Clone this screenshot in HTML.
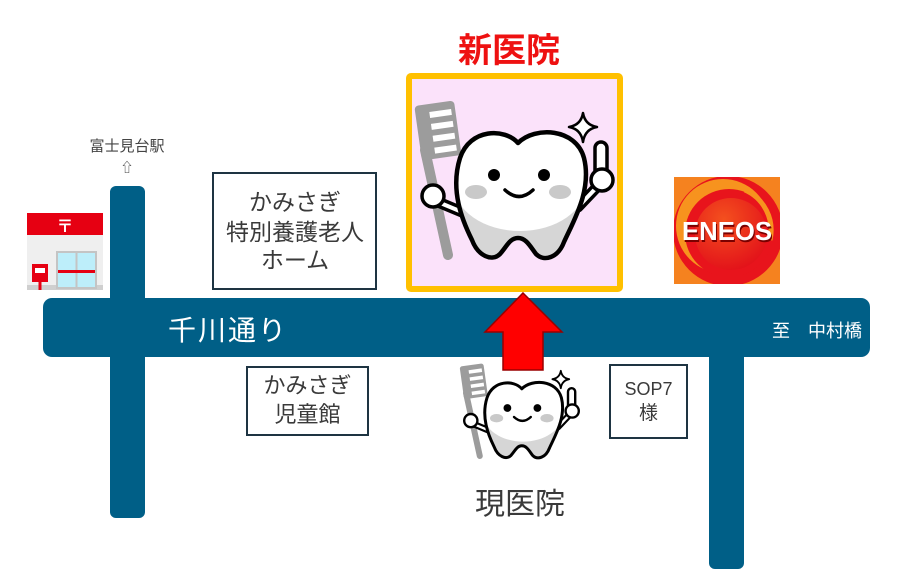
<!DOCTYPE html>
<html><head><meta charset="utf-8"><style>
html,body{margin:0;padding:0;background:#fff;}
svg{display:block;}
text{font-family:"Liberation Sans","Noto Sans CJK JP",sans-serif;}
</style></head><body>
<svg width="906" height="584" viewBox="0 0 906 584" xmlns="http://www.w3.org/2000/svg">
<defs>
<clipPath id="tc"><path d="M518 143 C505 128 470 128 460 158 C450 190 462 220 472 240 C478 256 492 262 500 254 C507 246 510 238 518 238 C526 238 530 246 536 254 C544 262 558 258 564 242 C574 220 592 190 584 158 C576 128 535 126 518 143 Z"/></clipPath>
<clipPath id="ec"><rect x="674" y="177" width="106" height="107"/></clipPath>
<radialGradient id="rg" cx="0.4" cy="0.3" r="0.75"><stop offset="0" stop-color="#f4501e"/><stop offset="1" stop-color="#e2101a"/></radialGradient>
</defs>

<!-- roads -->
<rect x="110" y="186" width="35" height="332" rx="6" fill="#005f87"/>
<rect x="709" y="330" width="35" height="239" rx="6" fill="#005f87"/>
<rect x="43" y="298" width="827" height="59" rx="9" fill="#005f87"/>
<text x="168" y="340" font-size="28" fill="#fff" letter-spacing="2">千川通り</text>
<text x="772" y="337" font-size="18" fill="#fff">至　中村橋</text>

<!-- station -->
<text x="127" y="151" font-size="15" fill="#444" text-anchor="middle">富士見台駅</text>
<text x="127" y="172" font-size="13" fill="#444" text-anchor="middle">⇧</text>

<!-- post office -->
<rect x="27" y="213" width="76" height="22" fill="#e60012"/>
<text x="65" y="232" font-size="17" font-weight="bold" fill="#fff" text-anchor="middle">〒</text>
<rect x="27" y="235" width="76" height="53" fill="#efefef"/>
<rect x="27" y="285" width="76" height="5" fill="#cfcfcf"/>
<rect x="57" y="252" width="39" height="36" fill="#bdeefa" stroke="#c4c4c4" stroke-width="2"/>
<rect x="75.5" y="252" width="2" height="36" fill="#c4c4c4"/>
<rect x="58" y="270" width="37" height="3" fill="#e60012"/>
<rect x="32" y="264" width="16" height="18" fill="#e60012"/>
<rect x="35" y="268" width="10" height="5" fill="#fff"/>
<rect x="38.5" y="282" width="3" height="8" fill="#e60012"/>

<!-- boxes -->
<rect x="213" y="173" width="163" height="116" fill="#fff" stroke="#1e3442" stroke-width="2"/>
<text x="295" y="210" font-size="23" fill="#3a3a3a" text-anchor="middle">かみさぎ</text>
<text x="295" y="240" font-size="23" fill="#3a3a3a" text-anchor="middle">特別養護老人</text>
<text x="295" y="268" font-size="23" fill="#3a3a3a" text-anchor="middle">ホーム</text>

<rect x="247" y="367" width="121" height="68" fill="#fff" stroke="#1e3442" stroke-width="2"/>
<text x="307.5" y="393" font-size="22" fill="#3a3a3a" text-anchor="middle">かみさぎ</text>
<text x="307.5" y="422" font-size="22" fill="#3a3a3a" text-anchor="middle">児童館</text>

<rect x="610" y="365" width="77" height="73" fill="#fff" stroke="#1e3442" stroke-width="2"/>
<text x="648.5" y="395" font-size="18" fill="#3a3a3a" text-anchor="middle">SOP7</text>
<text x="648.5" y="419" font-size="19" fill="#3a3a3a" text-anchor="middle">様</text>

<!-- new clinic -->
<text x="509" y="62" font-size="34" font-weight="bold" fill="#ee1111" text-anchor="middle">新医院</text>
<rect x="409" y="76" width="211" height="213" fill="#fbe2fa" stroke="#ffc000" stroke-width="6" rx="2"/>

<g>
  <line x1="425" y1="150" x2="448" y2="255" stroke="#9c9c9c" stroke-width="10" stroke-linecap="round"/>
  <g transform="rotate(-8 438 131)">
    <rect x="418" y="103" width="40" height="55" rx="4" fill="#9c9c9c"/>
    <line x1="432" y1="114" x2="454" y2="114" stroke="#fff" stroke-width="6"/>
    <line x1="432" y1="126" x2="454" y2="126" stroke="#fff" stroke-width="6"/>
    <line x1="432" y1="138" x2="454" y2="138" stroke="#fff" stroke-width="6"/>
    <line x1="432" y1="150" x2="454" y2="150" stroke="#fff" stroke-width="6"/>
  </g>
  <path d="M438 202 L462 212" stroke="#000" stroke-width="11" stroke-linecap="round"/>
  <path d="M438 202 L462 212" stroke="#fff" stroke-width="4" stroke-linecap="round"/>
  <circle cx="433" cy="196" r="11" fill="#fff" stroke="#000" stroke-width="3.5"/>
  <path d="M578 207 L598 186" stroke="#000" stroke-width="11" stroke-linecap="round"/>
  <path d="M578 207 L598 186" stroke="#fff" stroke-width="4" stroke-linecap="round"/>
  <rect x="595" y="142" width="12" height="36" rx="6" fill="#fff" stroke="#000" stroke-width="3.5"/>
  <circle cx="602" cy="180" r="11" fill="#fff" stroke="#000" stroke-width="3.5"/>
  <path d="M518 143 C505 128 470 128 460 158 C450 190 462 220 472 240 C478 256 492 262 500 254 C507 246 510 238 518 238 C526 238 530 246 536 254 C544 262 558 258 564 242 C574 220 592 190 584 158 C576 128 535 126 518 143 Z" fill="#fff"/>
  <g clip-path="url(#tc)">
    <rect x="440" y="200" width="160" height="70" fill="#d6d6d6"/>
    <ellipse cx="520" cy="185" rx="66" ry="46" fill="#fff"/>
  </g>
  <path d="M518 143 C505 128 470 128 460 158 C450 190 462 220 472 240 C478 256 492 262 500 254 C507 246 510 238 518 238 C526 238 530 246 536 254 C544 262 558 258 564 242 C574 220 592 190 584 158 C576 128 535 126 518 143 Z" fill="none" stroke="#000" stroke-width="4.5" stroke-linejoin="round"/>
  <ellipse cx="476" cy="192" rx="11" ry="7" fill="#c9c9c9"/>
  <ellipse cx="560" cy="192" rx="11" ry="7" fill="#c9c9c9"/>
  <circle cx="494" cy="175" r="6" fill="#000"/>
  <circle cx="544" cy="175" r="6" fill="#000"/>
  <path d="M505 190 Q519 203 533 190" fill="none" stroke="#000" stroke-width="3.5" stroke-linecap="round"/>
  <path d="M583 113 Q585 125 597 127 Q585 129 583 142 Q581 129 569 127 Q581 125 583 113 Z" fill="#fff" stroke="#000" stroke-width="2.5" stroke-linejoin="round"/>
</g>

<!-- ENEOS -->
<rect x="674" y="177" width="106" height="107" fill="#f5821f"/>
<g clip-path="url(#ec)">
  <circle cx="728" cy="231" r="55" fill="#e8141c"/>
  <circle cx="723" cy="226" r="47" fill="#f7931e"/>
  <circle cx="729" cy="233" r="44" fill="#e8141c"/>
  <path d="M745 190 A44 44 0 0 1 770 240" fill="none" stroke="#f7931e" stroke-width="5"/>
  <circle cx="731" cy="234" r="36" fill="url(#rg)"/>
</g>
<text x="683" y="242" font-size="26" font-weight="bold" fill="#7a0000" textLength="90" lengthAdjust="spacingAndGlyphs">ENEOS</text>
<text x="682" y="240" font-size="26" font-weight="bold" fill="#fff" textLength="90" lengthAdjust="spacingAndGlyphs">ENEOS</text>

<!-- red arrow -->
<polygon points="523,293 562,332 543,332 543,370 503,370 503,332 485,332" fill="#ff0000" stroke="#9a0000" stroke-width="1.5" stroke-linejoin="miter"/>

<!-- small tooth -->
<g transform="translate(211 303) scale(0.6)">
  <line x1="425" y1="150" x2="448" y2="255" stroke="#9c9c9c" stroke-width="10" stroke-linecap="round"/>
  <g transform="rotate(-8 438 131)">
    <rect x="418" y="103" width="40" height="55" rx="4" fill="#9c9c9c"/>
    <line x1="432" y1="114" x2="454" y2="114" stroke="#fff" stroke-width="6"/>
    <line x1="432" y1="126" x2="454" y2="126" stroke="#fff" stroke-width="6"/>
    <line x1="432" y1="138" x2="454" y2="138" stroke="#fff" stroke-width="6"/>
    <line x1="432" y1="150" x2="454" y2="150" stroke="#fff" stroke-width="6"/>
  </g>
  <path d="M438 202 L462 212" stroke="#000" stroke-width="11" stroke-linecap="round"/>
  <path d="M438 202 L462 212" stroke="#fff" stroke-width="4" stroke-linecap="round"/>
  <circle cx="433" cy="196" r="11" fill="#fff" stroke="#000" stroke-width="4"/>
  <path d="M578 207 L598 186" stroke="#000" stroke-width="11" stroke-linecap="round"/>
  <path d="M578 207 L598 186" stroke="#fff" stroke-width="4" stroke-linecap="round"/>
  <rect x="595" y="142" width="12" height="36" rx="6" fill="#fff" stroke="#000" stroke-width="4"/>
  <circle cx="602" cy="180" r="11" fill="#fff" stroke="#000" stroke-width="4"/>
  <path d="M518 143 C505 128 470 128 460 158 C450 190 462 220 472 240 C478 256 492 262 500 254 C507 246 510 238 518 238 C526 238 530 246 536 254 C544 262 558 258 564 242 C574 220 592 190 584 158 C576 128 535 126 518 143 Z" fill="#fff"/>
  <g clip-path="url(#tc)">
    <rect x="440" y="200" width="160" height="70" fill="#d6d6d6"/>
    <ellipse cx="520" cy="185" rx="66" ry="46" fill="#fff"/>
  </g>
  <path d="M518 143 C505 128 470 128 460 158 C450 190 462 220 472 240 C478 256 492 262 500 254 C507 246 510 238 518 238 C526 238 530 246 536 254 C544 262 558 258 564 242 C574 220 592 190 584 158 C576 128 535 126 518 143 Z" fill="none" stroke="#000" stroke-width="5" stroke-linejoin="round"/>
  <ellipse cx="476" cy="192" rx="11" ry="7" fill="#c9c9c9"/>
  <ellipse cx="560" cy="192" rx="11" ry="7" fill="#c9c9c9"/>
  <circle cx="494" cy="175" r="6.5" fill="#000"/>
  <circle cx="544" cy="175" r="6.5" fill="#000"/>
  <path d="M505 190 Q519 203 533 190" fill="none" stroke="#000" stroke-width="4" stroke-linecap="round"/>
  <path d="M583 113 Q585 125 597 127 Q585 129 583 142 Q581 129 569 127 Q581 125 583 113 Z" fill="#fff" stroke="#000" stroke-width="3" stroke-linejoin="round"/>
</g>

<text x="520" y="514" font-size="30" fill="#3a3a3a" text-anchor="middle">現医院</text>
</svg>
</body></html>
